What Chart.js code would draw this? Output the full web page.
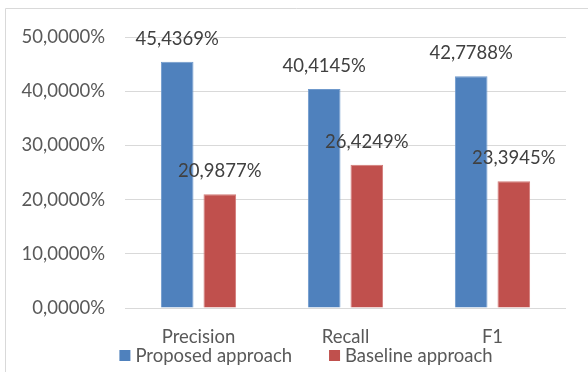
<!DOCTYPE html>
<html>
<head>
<meta charset="utf-8">
<script src="https://cdn.jsdelivr.net/npm/chart.js@4"></script>
<style>
  html, body { margin: 0; padding: 0; background: #fff; }
  #wrap { width: 588px; height: 372px; position: relative; }
</style>
</head>
<body>
<div id="wrap"><canvas id="metrics_chart"></canvas></div>
<script>
var categories = ['Precision', 'Recall', 'F1'];
var proposed = [45.4369, 40.4145, 42.7788];
var baseline = [20.9877, 26.4249, 23.3945];
var seriesNames = ['Proposed approach', 'Baseline approach'];
var yTicks = [0, 10, 20, 30, 40, 50];

var FONT = 'Lato, "Open Sans", sans-serif';
var FSIZE = 18.5;

function pct(v) {
    return v.toFixed(4).replace('.', ',') + '%';
}

// frame round the chart, open at right and bottom like the picture
const framePlugin = {
    id: 'frame',
    beforeDraw: function(chart) {
        const ctx = chart.ctx;
        ctx.save();
        ctx.strokeStyle = '#d9d9d9';
        ctx.lineWidth = 1;
        ctx.beginPath();
        ctx.moveTo(5.5, 372);
        ctx.lineTo(5.5, 8.5);
        ctx.lineTo(588, 8.5);
        ctx.stroke();
        ctx.restore();
    }
};

// value labels sit above each bar
const valueLabels = {
    id: 'valueLabels',
    afterDatasetsDraw: function(chart) {
        const ctx = chart.ctx;
        ctx.save();
        ctx.font = FSIZE + 'px ' + FONT;
        ctx.fillStyle = '#404040';
        ctx.textAlign = 'center';
        ctx.textBaseline = 'middle';
        chart.data.datasets.forEach(function(ds, i) {
            chart.getDatasetMeta(i).data.forEach(function(bar, j) {
                ctx.fillText(pct(ds.data[j]), bar.x, bar.y - 23);
            });
        });
        ctx.restore();
    }
};

// legend drawn by hand so the spacing can follow the picture
const bottomLegend = {
    id: 'bottomLegend',
    afterDraw: function(chart) {
        const ctx = chart.ctx;
        ctx.save();
        ctx.font = FSIZE + 'px ' + FONT;
        ctx.textBaseline = 'middle';
        const box = 11, gap = 5, itemGap = 37, cy = 355.5;
        const items = chart.data.datasets.map(function(ds) {
            return { label: ds.label, color: ds.backgroundColor, w: box + gap + ctx.measureText(ds.label).width };
        });
        let total = items.reduce(function(s, it) { return s + it.w; }, 0) + itemGap * (items.length - 1);
        let x = 306 - total / 2;
        items.forEach(function(it) {
            ctx.fillStyle = it.color;
            ctx.fillRect(x, cy - box / 2, box, box);
            ctx.fillStyle = '#595959';
            ctx.fillText(it.label, x + box + gap, cy + 1);
            x += it.w + itemGap;
        });
        ctx.restore();
    }
};

const config_metrics = {
    type: 'bar',
    data: {
        labels: categories,
        datasets: [
            {
                label: seriesNames[0],
                data: proposed,
                backgroundColor: '#4f81bd',
                borderColor: '#6f99cc',
                borderWidth: 1
            },
            {
                label: seriesNames[1],
                data: baseline,
                backgroundColor: '#c0504d',
                borderColor: '#d27a77',
                borderWidth: 1
            }
        ]
    },
    options: {
        responsive: false,
        animation: false,
        devicePixelRatio: 1,
        categoryPercentage: 0.58,
        barPercentage: 0.765,
        layout: { padding: { top: 37, right: 22, bottom: 0, left: 0 } },
        plugins: {
            legend: { display: false },
            tooltip: { enabled: false }
        },
        scales: {
            x: {
                grid: { display: false },
                border: { display: false },
                ticks: {
                    color: '#595959',
                    font: { family: FONT, size: FSIZE },
                    padding: 10
                },
                afterFit: function(scale) { scale.height = 64; }
            },
            y: {
                min: 0,
                max: 50,
                afterBuildTicks: function(scale) {
                    scale.ticks = yTicks.map(function(v) { return { value: v }; });
                },
                grid: { color: '#d9d9d9', lineWidth: 1, drawTicks: false },
                border: { display: false },
                ticks: {
                    color: '#595959',
                    font: { family: FONT, size: FSIZE },
                    padding: 20,
                    callback: function(v) { return pct(v); }
                },
                afterFit: function(scale) { scale.width = 125; }
            }
        }
    },
    plugins: [framePlugin, valueLabels, bottomLegend]
};

const canvas = document.getElementById('metrics_chart');
canvas.width = 588;
canvas.height = 372;
const metrics_chart = new Chart(canvas, config_metrics);
</script>
</body>
</html>
